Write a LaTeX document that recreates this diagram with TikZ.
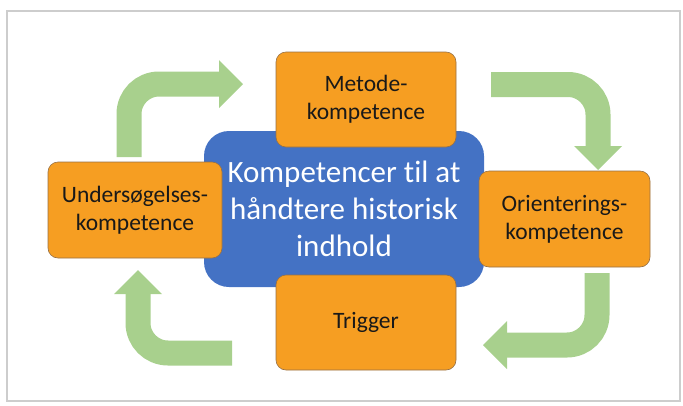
\documentclass[tikz,border=0pt]{standalone}
\usepackage{fontspec}
\setmainfont{Carlito}[Ligatures=CommonOff]
\usepackage{tikz}
\usetikzlibrary{arrows.meta,positioning}

\definecolor{compOrange}{RGB}{246,158,34}
\definecolor{compEdge}{RGB}{150,112,70}
\definecolor{coreBlue}{RGB}{68,114,196}
\definecolor{loopGreen}{RGB}{168,208,141}
\definecolor{frameGrey}{RGB}{205,205,205}

\begin{document}
\begin{tikzpicture}[
    x=1pt, y=-1pt,
    comp/.style={rectangle, rounded corners=10pt, fill=compOrange,
      draw=compEdge, line width=0.6pt, minimum width=180pt,
      minimum height=95pt, align=center, text=black!90,
      font=\fontsize{23.5}{28}\selectfont},
    core/.style={rectangle, rounded corners=25pt, fill=coreBlue,
      minimum width=280pt, minimum height=156pt, align=center,
      text=white, font=\fontsize{31}{37}\selectfont},
    loop/.style={draw=loopGreen, line width=25pt, rounded corners=30pt,
      -{Triangle[width=48pt,length=24pt,line width=0pt]}},
  ]
  \useasboundingbox (0,0) rectangle (683,405);

  % Frame
  \draw[frameGrey, line width=2.5pt] (7,11) rectangle (680,401);

  % Centre
  \node[core] (core) at (344,209)
    {Kompetencer til at\\håndtere historisk\\indhold};

  % Competences
  \node[comp] (metode) at (366,99.5) {Metode-\\kompetence};
  \node[comp, minimum width=174pt, minimum height=96pt] (undersog)
    at (135,210) {Undersøgelses-\\kompetence};
  \node[comp, minimum width=171pt, minimum height=96pt] (orient)
    at (564.5,219) {Orienterings-\\kompetence};
  \node[comp] (trigger) at (366,322.5) {Trigger};

  % Loop arrows
  \coordinate (tlS) at (129,157);
  \coordinate (tlE) at (243,84);
  \coordinate (trS) at (491,84.5);
  \coordinate (trE) at (598,170);
  \coordinate (brS) at (597,273);
  \coordinate (brE) at (483,345);
  \coordinate (blS) at (232,353);
  \coordinate (blE) at (138,270);

  \draw[loop] (tlS) |- (tlE);
  \draw[loop] (trS) -| (trE);
  \draw[loop] (brS) |- (brE);
  \draw[loop] (blS) -| (blE);
\end{tikzpicture}
\end{document}
